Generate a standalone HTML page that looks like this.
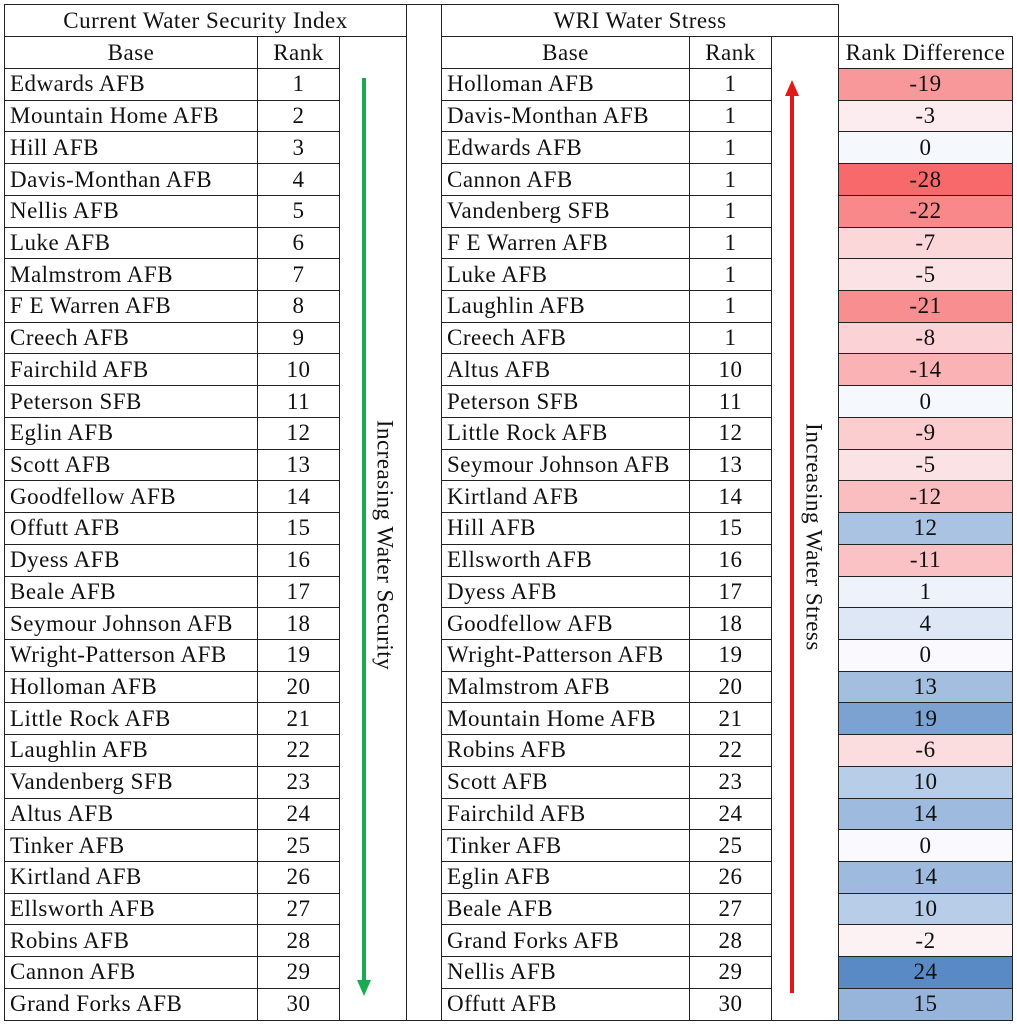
<!DOCTYPE html>
<html><head><meta charset="utf-8"><style>
body{margin:0;background:#fff;width:1017px;height:1024px;position:relative;overflow:hidden;font-family:"Liberation Serif",serif;font-size:23px;letter-spacing:0.5px;color:#111}
table{position:absolute;left:4px;top:4px;border-collapse:collapse;table-layout:fixed}
tr{height:31.73px}
td{border:1.5px solid #222;padding:0;line-height:26px;white-space:nowrap;overflow:hidden}
.l{padding-left:5px;text-align:left}
.c{text-align:center}
.nb{border:none;border-left:1.5px solid #222}
.ov{position:absolute}
</style></head><body>
<table>
<colgroup><col style="width:253px"><col style="width:82px"><col style="width:67px"><col style="width:35px"><col style="width:248px"><col style="width:82px"><col style="width:67px"><col style="width:174px"></colgroup>
<tr style="height:32px"><td colspan="3" class="c">Current Water Security Index</td><td rowspan="32" style="border-bottom:1.5px solid #222"></td><td colspan="3" class="c">WRI Water Stress</td><td class="nb" style="border-bottom:1.5px solid #222"></td></tr>
<tr style="height:32px"><td class="c">Base</td><td class="c">Rank</td><td rowspan="31"></td><td class="c">Base</td><td class="c">Rank</td><td rowspan="31"></td><td class="c">Rank Difference</td></tr>
<tr><td class="l">Edwards AFB</td><td class="c">1</td><td class="l">Holloman AFB</td><td class="c">1</td><td class="c" style="background:rgb(249,152,155)">-19</td></tr>
<tr><td class="l">Mountain Home AFB</td><td class="c">2</td><td class="l">Davis-Monthan AFB</td><td class="c">1</td><td class="c" style="background:rgb(252,236,239)">-3</td></tr>
<tr><td class="l">Hill AFB</td><td class="c">3</td><td class="l">Edwards AFB</td><td class="c">1</td><td class="c" style="background:rgb(245,248,253)">0</td></tr>
<tr><td class="l">Davis-Monthan AFB</td><td class="c">4</td><td class="l">Cannon AFB</td><td class="c">1</td><td class="c" style="background:rgb(248,105,107)">-28</td></tr>
<tr><td class="l">Nellis AFB</td><td class="c">5</td><td class="l">Vandenberg SFB</td><td class="c">1</td><td class="c" style="background:rgb(249,136,139)">-22</td></tr>
<tr><td class="l">Luke AFB</td><td class="c">6</td><td class="l">F E Warren AFB</td><td class="c">1</td><td class="c" style="background:rgb(251,215,218)">-7</td></tr>
<tr><td class="l">Malmstrom AFB</td><td class="c">7</td><td class="l">Luke AFB</td><td class="c">1</td><td class="c" style="background:rgb(251,226,229)">-5</td></tr>
<tr><td class="l">F E Warren AFB</td><td class="c">8</td><td class="l">Laughlin AFB</td><td class="c">1</td><td class="c" style="background:rgb(249,142,144)">-21</td></tr>
<tr><td class="l">Creech AFB</td><td class="c">9</td><td class="l">Creech AFB</td><td class="c">1</td><td class="c" style="background:rgb(251,210,213)">-8</td></tr>
<tr><td class="l">Fairchild AFB</td><td class="c">10</td><td class="l">Altus AFB</td><td class="c">10</td><td class="c" style="background:rgb(250,178,181)">-14</td></tr>
<tr><td class="l">Peterson SFB</td><td class="c">11</td><td class="l">Peterson SFB</td><td class="c">11</td><td class="c" style="background:rgb(245,248,253)">0</td></tr>
<tr><td class="l">Eglin AFB</td><td class="c">12</td><td class="l">Little Rock AFB</td><td class="c">12</td><td class="c" style="background:rgb(251,205,207)">-9</td></tr>
<tr><td class="l">Scott AFB</td><td class="c">13</td><td class="l">Seymour Johnson AFB</td><td class="c">13</td><td class="c" style="background:rgb(251,226,229)">-5</td></tr>
<tr><td class="l">Goodfellow AFB</td><td class="c">14</td><td class="l">Kirtland AFB</td><td class="c">14</td><td class="c" style="background:rgb(250,189,192)">-12</td></tr>
<tr><td class="l">Offutt AFB</td><td class="c">15</td><td class="l">Hill AFB</td><td class="c">15</td><td class="c" style="background:rgb(171,195,227)">12</td></tr>
<tr><td class="l">Dyess AFB</td><td class="c">16</td><td class="l">Ellsworth AFB</td><td class="c">16</td><td class="c" style="background:rgb(250,194,197)">-11</td></tr>
<tr><td class="l">Beale AFB</td><td class="c">17</td><td class="l">Dyess AFB</td><td class="c">17</td><td class="c" style="background:rgb(238,242,251)">1</td></tr>
<tr><td class="l">Seymour Johnson AFB</td><td class="c">18</td><td class="l">Goodfellow AFB</td><td class="c">18</td><td class="c" style="background:rgb(222,231,245)">4</td></tr>
<tr><td class="l">Wright-Patterson AFB</td><td class="c">19</td><td class="l">Wright-Patterson AFB</td><td class="c">19</td><td class="c" style="background:rgb(250,250,254)">0</td></tr>
<tr><td class="l">Holloman AFB</td><td class="c">20</td><td class="l">Malmstrom AFB</td><td class="c">20</td><td class="c" style="background:rgb(164,190,224)">13</td></tr>
<tr><td class="l">Little Rock AFB</td><td class="c">21</td><td class="l">Mountain Home AFB</td><td class="c">21</td><td class="c" style="background:rgb(124,162,210)">19</td></tr>
<tr><td class="l">Laughlin AFB</td><td class="c">22</td><td class="l">Robins AFB</td><td class="c">22</td><td class="c" style="background:rgb(251,221,223)">-6</td></tr>
<tr><td class="l">Vandenberg SFB</td><td class="c">23</td><td class="l">Scott AFB</td><td class="c">23</td><td class="c" style="background:rgb(184,205,231)">10</td></tr>
<tr><td class="l">Altus AFB</td><td class="c">24</td><td class="l">Fairchild AFB</td><td class="c">24</td><td class="c" style="background:rgb(158,186,222)">14</td></tr>
<tr><td class="l">Tinker AFB</td><td class="c">25</td><td class="l">Tinker AFB</td><td class="c">25</td><td class="c" style="background:rgb(250,250,254)">0</td></tr>
<tr><td class="l">Kirtland AFB</td><td class="c">26</td><td class="l">Eglin AFB</td><td class="c">26</td><td class="c" style="background:rgb(158,186,222)">14</td></tr>
<tr><td class="l">Ellsworth AFB</td><td class="c">27</td><td class="l">Beale AFB</td><td class="c">27</td><td class="c" style="background:rgb(184,205,231)">10</td></tr>
<tr><td class="l">Robins AFB</td><td class="c">28</td><td class="l">Grand Forks AFB</td><td class="c">28</td><td class="c" style="background:rgb(252,242,244)">-2</td></tr>
<tr><td class="l">Cannon AFB</td><td class="c">29</td><td class="l">Nellis AFB</td><td class="c">29</td><td class="c" style="background:rgb(90,138,198)">24</td></tr>
<tr><td class="l">Grand Forks AFB</td><td class="c">30</td><td class="l">Offutt AFB</td><td class="c">30</td><td class="c" style="background:rgb(151,181,219)">15</td></tr>
</table>
<svg class="ov" style="left:0;top:0" width="1017" height="1024">
<line x1="364" y1="78" x2="364" y2="982" stroke="#1aaa4f" stroke-width="4"/>
<polygon points="357,980 371,980 364,996" fill="#1aaa4f"/>
<line x1="792" y1="94" x2="792" y2="993" stroke="#e31818" stroke-width="4"/>
<polygon points="785,96 799,96 792,80" fill="#e31818"/>
<text x="383" y="545" transform="rotate(90 383 545)" text-anchor="middle" dominant-baseline="middle" font-family="Liberation Serif, serif" font-size="23" letter-spacing="0.5" fill="#111">Increasing Water Security</text>
<text x="812" y="537" transform="rotate(90 812 537)" text-anchor="middle" dominant-baseline="middle" font-family="Liberation Serif, serif" font-size="23" letter-spacing="0.5" fill="#111">Increasing Water Stress</text>
</svg>
</body></html>
